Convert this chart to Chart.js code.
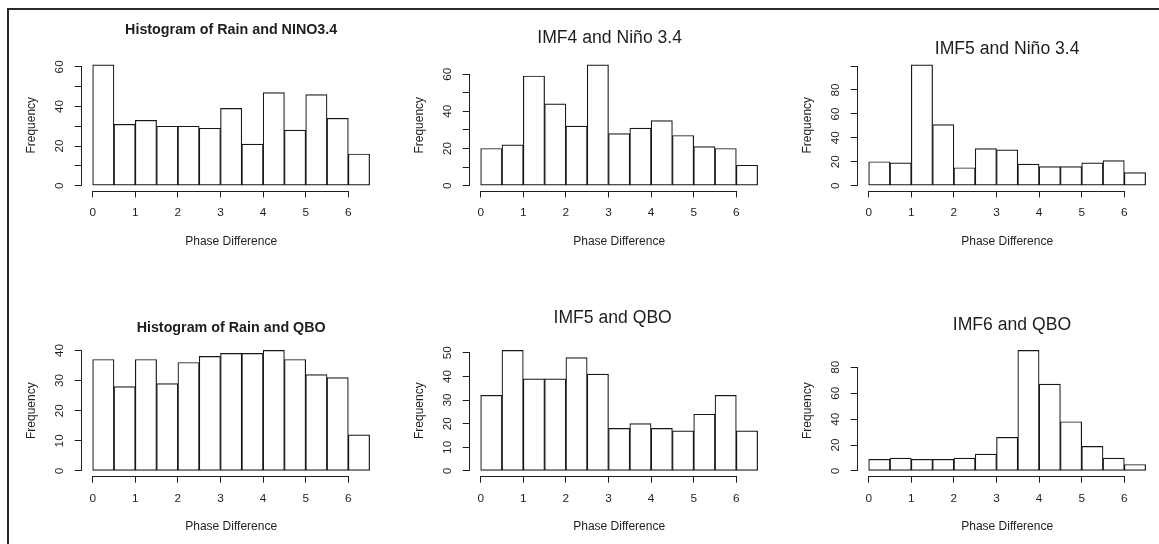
<!DOCTYPE html>
<html>
<head>
<meta charset="utf-8">
<script src="https://cdn.jsdelivr.net/npm/chart.js@4.4.1/dist/chart.umd.min.js"></script>
<style>
  html, body { margin: 0; padding: 0; background: #fff; }
  #page { position: relative; width: 1159px; height: 544px; overflow: hidden; }
  #frame { position: absolute; left: 7px; top: 8px; width: 1200px; height: 600px;
           border-top: 2px solid #2a2a2a; border-left: 2px solid #2a2a2a; }
  canvas { position: absolute; }
</style>
</head>
<body>
<div id="page">
  <div id="frame"></div>
  <canvas id="c0" width="388" height="270" style="left:0px;top:0px"></canvas>
  <canvas id="c1" width="388" height="270" style="left:388px;top:0px"></canvas>
  <canvas id="c2" width="388" height="270" style="left:776px;top:0px"></canvas>
  <canvas id="c3" width="388" height="274" style="left:0px;top:270px"></canvas>
  <canvas id="c4" width="388" height="274" style="left:388px;top:270px"></canvas>
  <canvas id="c5" width="388" height="274" style="left:776px;top:270px"></canvas>
</div>
<script>
// bins of phase difference (radians), width 0.5
const binEdges = [0, 0.5, 1, 1.5, 2, 2.5, 3, 3.5, 4, 4.5, 5, 5.5, 6, 6.5];
const xTicks = [0, 1, 2, 3, 4, 5, 6];

// frequencies per bin
const rainNino = [61, 31, 33, 30, 30, 29, 39, 21, 47, 28, 46, 34, 16];
const imf4Nino = [20, 22, 59, 44, 32, 65, 28, 31, 35, 27, 21, 20, 11];
const imf5Nino = [20, 19, 101, 51, 15, 31, 30, 18, 16, 16, 19, 21, 11];
const rainQbo = [37, 28, 37, 29, 36, 38, 39, 39, 40, 37, 32, 31, 12];
const imf5Qbo = [32, 51, 39, 39, 48, 41, 18, 20, 18, 17, 24, 32, 17];
const imf6Qbo = [9, 10, 9, 9, 10, 13, 26, 93, 67, 38, 19, 10, 5];

// y axis ticks and which of them carry a label
const yTicksA = [0, 10, 20, 30, 40, 50, 60];
const yLabelsA = [0, 20, 40, 60];
const yTicksB = [0, 20, 40, 60, 80, 100];
const yLabelsB = [0, 20, 40, 60, 80];
const yTicksC = [0, 10, 20, 30, 40];
const yTicksD = [0, 10, 20, 30, 40, 50];
const yTicksE = [0, 20, 40, 60, 80];

const ink = "#1e1e1e";
Chart.defaults.font.family = '"Liberation Sans", Arial, Helvetica, sans-serif';
Chart.defaults.color = ink;

const panels = [
  { id: "c0", counts: rainNino, title: "Histogram of Rain and NINO3.4", bold: true, yTicks: yTicksA, yLabels: yLabelsA, titleY: 30.2, titleDx: 0, top: 60, bottom: 190.5 },
  { id: "c1", counts: imf4Nino, title: "IMF4 and Niño 3.4", bold: false, yTicks: yTicksA, yLabels: yLabelsA, titleY: 38.3, titleDx: -9.5, top: 60, bottom: 190.5 },
  { id: "c2", counts: imf5Nino, title: "IMF5 and Niño 3.4", bold: false, yTicks: yTicksB, yLabels: yLabelsB, titleY: 48.8, titleDx: 0, top: 60, bottom: 190.5 },
  { id: "c3", counts: rainQbo, title: "Histogram of Rain and QBO", bold: true, yTicks: yTicksC, yLabels: yTicksC, titleY: 58, titleDx: 0, top: 75.6, bottom: 205.8 },
  { id: "c4", counts: imf5Qbo, title: "IMF5 and QBO", bold: false, yTicks: yTicksD, yLabels: yTicksD, titleY: 48.5, titleDx: -6.5, top: 75.6, bottom: 205.8 },
  { id: "c5", counts: imf6Qbo, title: "IMF6 and QBO", bold: false, yTicks: yTicksE, yLabels: yTicksE, titleY: 55.2, titleDx: 4.8, top: 75.6, bottom: 205.8 },
];

// R style axes: line only from first to last tick
const axisLines = {
  id: "axisLines",
  afterLayout(chart) {
    const dx = chart.options.titleDx || 0;
    if (chart.titleBlock && dx) {
      chart.titleBlock.left += dx;
      chart.titleBlock.right += dx;
    }
  },
  afterDraw(chart) {
    const { ctx, chartArea, scales } = chart;
    const x = scales.x, y = scales.y;
    const yt = chart.options.scales.y.customTicks;
    const bx = Math.round(chartArea.bottom) + 0.5;
    const lx = Math.round(chartArea.left) - 0.5;
    ctx.save();
    ctx.strokeStyle = ink;
    ctx.lineWidth = 1;
    ctx.beginPath();
    ctx.moveTo(x.getPixelForValue(xTicks[0]), bx);
    ctx.lineTo(x.getPixelForValue(xTicks[xTicks.length - 1]), bx);
    ctx.moveTo(lx, y.getPixelForValue(yt[0]));
    ctx.lineTo(lx, y.getPixelForValue(yt[yt.length - 1]));
    ctx.stroke();
    ctx.restore();
  }
};

panels.forEach(p => {
  const canvas = document.getElementById(p.id);
  const H = canvas.height;
  const centers = binEdges.slice(0, -1).map((e, i) => (e + binEdges[i + 1]) / 2);
  const points = p.counts.map((c, i) => ({ x: centers[i], y: c }));
  const maxC = Math.max(...p.counts);
  const span = binEdges[binEdges.length - 1] - binEdges[0];

  const tSize = p.bold ? 14.3 : 17.6;
  const tLh = tSize * 1.2;
  const tPadTop = p.titleY - tLh / 2;
  const tPadBottom = p.top - tPadTop - tLh;
  const xAxisH = 58;

  const grid = { display: true, drawOnChartArea: false, drawTicks: true, tickLength: 7, color: ink, lineWidth: 1 };

  new Chart(canvas, {
    type: "bar",
    data: {
      datasets: [{
        data: points,
        backgroundColor: "#fff",
        borderColor: "#161616",
        borderWidth: 1.2,
        borderSkipped: false,
        barPercentage: 1,
        categoryPercentage: 1,
      }]
    },
    options: {
      responsive: false,
      animation: false,
      titleDx: p.titleDx,
      layout: { padding: { top: 0, left: 0, right: 7.3, bottom: H - p.bottom - xAxisH } },
      plugins: {
        legend: { display: false },
        tooltip: { enabled: false },
        title: {
          display: true,
          fullSize: false,
          text: p.title,
          color: ink,
          font: { size: tSize, weight: p.bold ? "bold" : "normal" },
          padding: { top: tPadTop, bottom: tPadBottom },
        },
      },
      scales: {
        x: {
          type: "linear",
          offset: false,
          min: binEdges[0] - span * 0.04,
          max: binEdges[binEdges.length - 1] + span * 0.04,
          bounds: "data",
          grid: Object.assign({ offset: false }, grid),
          border: { display: false },
          afterBuildTicks: s => { s.ticks = xTicks.map(v => ({ value: v })); },
          afterFit: s => { s.height = xAxisH; },
          ticks: { autoSkip: false, maxRotation: 0, padding: 8.5, color: ink, font: { size: 11.8 } },
          title: { display: true, text: "Phase Difference", color: ink, font: { size: 12 }, padding: 0 },
        },
        y: {
          type: "linear",
          min: -maxC * 0.04,
          max: maxC * 1.04,
          bounds: "data",
          customTicks: p.yTicks,
          grid: grid,
          border: { display: false },
          afterBuildTicks: s => { s.ticks = p.yTicks.map(v => ({ value: v })); },
          afterFit: s => { s.width = 81.6; },
          ticks: {
            autoSkip: false,
            minRotation: 90,
            maxRotation: 90,
            crossAlign: "center",
            padding: 8.5,
            color: ink,
            font: { size: 11.8 },
            callback: v => (p.yLabels.includes(v) ? String(v) : ""),
          },
          title: { display: true, text: "Frequency", color: ink, font: { size: 12 }, padding: { top: 31.5 - 7.2, bottom: 0 } },
        },
      },
    },
    plugins: [axisLines],
  });
});
</script>
</body>
</html>
